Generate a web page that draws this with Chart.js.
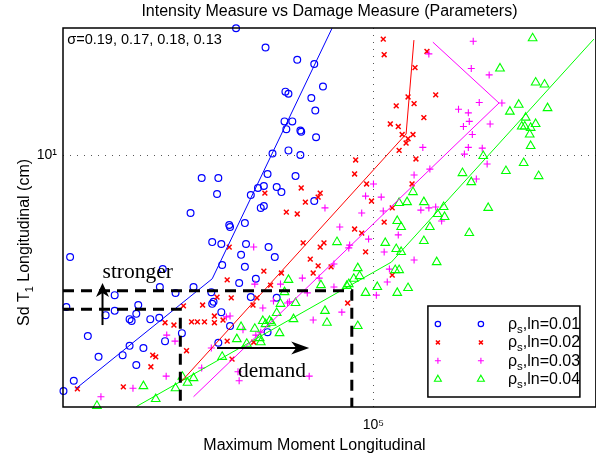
<!DOCTYPE html>
<html>
<head>
<meta charset="utf-8">
<title>Intensity Measure vs Damage Measure</title>
<script src="https://cdn.jsdelivr.net/npm/chart.js@4.4.1/dist/chart.umd.min.js"></script>
<style>
    html, body { margin: 0; padding: 0; overflow: hidden; background: #fff; }
    canvas { display: block; }
</style>
</head>
<body>
<canvas id="imChart" width="602" height="456"></canvas>
<script>
const SANS = '"Liberation Sans", Arial, Helvetica, sans-serif';
const SERIF = '"Liberation Serif", "Times New Roman", serif';

// axis limits and ticks
const momentRange = [20050, 316228];
const sdRange = [1.995, 22.54];
const momentTicks = [1e5];
const sdTicks = [10];

// rho_s,ln = 0.01
const moment01 = [
    49100, 57200, 67400, 73600, 77000, 63400, 64400, 72500, 74000, 63100,
    65700, 63700, 68500, 68800, 74300, 64400, 59300, 68500, 57800, 66800,
    41100, 44800, 56700, 60600, 55000, 62100, 44500, 53000, 73600, 56700,
    55800, 38800, 47400, 47600, 51400, 43400, 45500, 51700, 58100, 50400,
    60000, 20800, 45700, 51400, 33600, 54400, 49900, 33100, 39400, 35900,
    43200, 26200, 53000, 60600, 43700, 43400, 20400, 29600, 26200, 25000,
    29300, 28300, 28600, 31500, 33000, 45500, 47600, 22800, 37100, 34000,
    44800, 57800, 28300, 30400, 27300, 24100, 29300, 21200, 20100
];
const sd01 = [
    22.5, 19.9, 18.4, 17.9, 15.5, 15.0, 14.8, 14.4, 13.3, 12.4,
    12.4, 11.8, 11.7, 11.6, 11.2, 10.3, 10.1, 10.0, 8.86, 8.74,
    8.63, 8.63, 8.20, 8.15, 8.10, 7.89, 7.79, 7.74, 7.45, 7.22,
    7.13, 6.90, 6.39, 6.31, 6.47, 5.73, 5.66, 5.66, 5.55, 5.28,
    5.21, 5.21, 4.95, 4.89, 4.82, 4.53, 4.41, 4.30, 4.30, 4.14,
    4.16, 4.08, 4.03, 4.01, 3.91, 3.86, 3.78, 3.83, 3.69, 3.59,
    3.62, 3.50, 3.46, 3.50, 3.53, 3.66, 3.35, 3.14, 3.20, 3.04,
    3.01, 3.22, 2.95, 2.91, 2.78, 2.75, 2.61, 2.36, 2.21
];

// rho_s,ln = 0.02
const moment02 = [
    105200, 105700, 131900, 124000, 119600, 138000, 112500, 123400, 129800, 109100,
    113700, 116000, 122700, 119600, 118400, 114200, 124600, 91200, 90700, 96500,
    122100, 68800, 57000, 75900, 75100, 99000, 70300, 110200, 63700, 67400,
    105700, 90700, 94100, 69500, 77400, 75900, 47400, 96000, 72100, 75100,
    73200, 80300, 56700, 62100, 110200, 46900, 58700, 44500, 47900, 54700,
    87500, 41300, 37400, 53600, 34000, 35600, 39000, 40200, 41700, 43900,
    43900, 45900, 46900, 53800, 38000, 31900, 32400, 31600, 48100, 27400,
    21600
];
const sd02 = [
    21.0, 19.0, 19.4, 17.5, 14.5, 14.7, 13.7, 13.9, 12.7, 12.2,
    12.0, 11.4, 11.4, 11.1, 10.8, 10.3, 9.75, 9.69, 8.86, 8.31,
    8.31, 8.10, 7.84, 7.84, 7.64, 7.45, 7.40, 7.13, 6.94, 6.86,
    6.51, 6.23, 6.07, 5.70, 5.70, 5.55, 5.55, 5.38, 5.14, 4.92,
    4.70, 4.89, 4.76, 4.70, 4.64, 4.50, 4.35, 4.03, 4.01, 4.01,
    3.88, 3.83, 3.81, 3.83, 3.42, 3.37, 3.44, 3.44, 3.44, 3.57,
    3.42, 3.48, 3.04, 3.02, 2.86, 2.78, 2.75, 2.58, 2.71, 2.27,
    2.24
];

// rho_s,ln = 0.03
const moment03 = [
    167600, 133200, 165900, 182000, 172900, 194400, 155300, 163400, 164200, 159300,
    182900, 166800, 129100, 163400, 175600, 160100, 180100, 170300, 133900, 123400,
    138000, 133200, 127800, 142300, 100000, 96000, 104100, 94100, 105200, 77800,
    84000, 113700, 97500, 88400, 88000, 105700, 123400, 81500, 69200, 75500,
    108600, 81500, 71000, 107400, 101500, 84900, 73200, 61800, 64700, 56400,
    59600, 64100, 53800, 54100, 55800, 54400, 50900, 46700, 47600, 34300,
    35800, 43200, 41100, 34200, 28800, 24400, 49600, 49900, 71700
];
const sd03 = [
    20.7, 19.1, 17.4, 16.7, 14.0, 13.95, 13.4, 13.1, 12.4, 12.0,
    12.2, 11.4, 10.5, 10.5, 10.45, 10.06, 9.44, 8.58, 9.14, 8.80,
    7.17, 7.13, 7.03, 6.56, 8.31, 7.69, 7.64, 6.90, 6.99, 7.13,
    6.31, 6.00, 5.84, 5.62, 5.52, 5.38, 5.11, 4.98, 4.55, 4.55,
    4.82, 4.30, 4.14, 4.44, 4.08, 3.66, 3.48, 4.38, 3.91, 3.76,
    3.93, 3.88, 5.55, 4.38, 3.22, 3.16, 3.27, 3.55, 3.57, 3.16,
    3.04, 2.91, 2.56, 2.43, 2.25, 2.13, 2.50, 2.36, 2.43
];

// rho_s,ln = 0.04
const moment04 = [
    227900, 192500, 231500, 242400, 212100, 202600, 246200, 219900, 231500, 215400,
    218800, 225600, 224500, 225600, 176500, 217600, 198500, 235100, 158500, 165900,
    122700, 114200, 119000, 129800, 181100, 143800, 139400, 144500, 113100, 115400,
    133900, 164200, 129800, 106300, 112500, 115400, 82800, 138700, 92200, 93100,
    90300, 111900, 114200, 87100, 88000, 76200, 102000, 96000, 119600, 113100,
    64400, 63100, 61800, 66800, 77800, 78600, 56400, 58400, 59000, 57200,
    60600, 92200, 66100, 61500, 54100, 55800, 55500, 50400, 49300, 51900,
    45700, 39400, 38200, 37200, 35900, 30400, 32400, 23900
];
const sd04 = [
    21.1, 17.4, 15.9, 15.7, 13.8, 13.2, 13.5, 12.7, 12.2, 12.0,
    12.0, 11.9, 11.4, 10.6, 9.94, 9.50, 9.03, 8.74, 8.91, 8.41,
    7.89, 7.36, 7.40, 7.40, 7.13, 7.17, 6.86, 6.73, 6.56, 6.31,
    6.31, 6.07, 5.77, 5.70, 5.48, 5.38, 5.73, 5.04, 4.85, 4.61,
    4.53, 4.79, 4.79, 4.33, 4.38, 4.35, 4.30, 4.14, 4.27, 4.14,
    4.50, 4.16, 3.86, 3.88, 3.69, 3.42, 3.46, 3.46, 3.42, 3.39,
    3.64, 3.35, 3.50, 3.20, 3.29, 3.02, 3.10, 3.33, 3.08, 2.99,
    2.75, 2.40, 2.33, 2.42, 2.25, 2.28, 2.10, 2.01
];

// fitted lines (bilinear)
const fitMoment01 = [21400, 43400, 80700];
const fitSd01 = [2.24, 4.53, 22.5];
const fitMoment02 = [36900, 118400, 123300];
const fitSd02 = [2.34, 11.44, 20.86];
const fitMoment03 = [39400, 191500, 136000];
const fitSd03 = [2.13, 13.95, 20.59];
const fitMoment04 = [29300, 109700, 313000];
const fitSd04 = [2.0, 5.04, 21.0];

const legendValues = ["0.01", "0.02", "0.03", "0.04"];

// annotations, in data units
const capacitySd = [4.2, 3.73];
const capacityMoment = [89400, 36800];
const strongerArrow = { moment: 24600, from: 3.37, to: 4.41 };
const strongerText = { moment: 24600, sd: 4.55, text: "stronger" };
const demandArrow = { sd: 2.91, from: 44500, to: 71700 };
const demandText = { moment: 49600, sd: 2.42, text: "demand" };
const sigmaText = { moment: 20500, sd: 20.3, text: "σ=0.19, 0.17, 0.18, 0.13" };

const titleText = "Intensity Measure vs Damage Measure (Parameters)";
const xTitle = "Maximum Moment Longitudinal";

const styles = [
    { color: "#0000ff", pointStyle: "circle", radius: 3.4, legendRadius: 2.7, width: 1.2 },
    { color: "#ff0000", pointStyle: "crossRot", radius: 3.4, legendRadius: 2.8, width: 1.5 },
    { color: "#ff00ff", pointStyle: "cross", radius: 3.5, legendRadius: 3.0, width: 1.1 },
    { color: "#00ff00", pointStyle: "triangle", radius: 5, legendRadius: 4, width: 1.1 }
];

const SUPERS = "⁰¹²³⁴⁵⁶⁷⁸⁹";
const powerLabel = v => "10" + String(Math.round(Math.log10(v))).split("").map(d => SUPERS[d]).join("");

const toPoints = (xs, ys) => xs.map((v, i) => ({ x: v, y: ys[i] }));

function scatterSet(xs, ys, s) {
    return {
        data: toPoints(xs, ys),
        pointStyle: s.pointStyle,
        pointRadius: s.radius,
        pointHoverRadius: s.radius,
        borderColor: s.color,
        backgroundColor: "rgba(0,0,0,0)",
        borderWidth: s.width,
        clip: false
    };
}

function fitSet(xs, ys, s) {
    return {
        data: toPoints(xs, ys),
        showLine: true,
        pointRadius: 0,
        borderColor: s.color,
        borderWidth: 1,
        fill: false
    };
}

function drawArrow(ctx, x0, y0, x1, y1, len, half) {
    const ang = Math.atan2(y1 - y0, x1 - x0);
    ctx.beginPath();
    ctx.moveTo(x0, y0);
    ctx.lineTo(x1 - Math.cos(ang) * len * 0.7, y1 - Math.sin(ang) * len * 0.7);
    ctx.stroke();
    ctx.save();
    ctx.translate(x1, y1);
    ctx.rotate(ang);
    ctx.beginPath();
    ctx.moveTo(0, 0);
    ctx.lineTo(-len, -half);
    ctx.lineTo(-len * 0.72, 0);
    ctx.lineTo(-len, half);
    ctx.closePath();
    ctx.fill();
    ctx.restore();
}

function drawMarker(ctx, s, r, x, y) {
    ctx.strokeStyle = s.color;
    ctx.fillStyle = "rgba(0,0,0,0)";
    ctx.lineWidth = s.width;
    Chart.helpers.drawPoint(ctx, { pointStyle: s.pointStyle, radius: r, borderWidth: s.width, rotation: 0 }, x, y);
}

function drawYTitle(ctx, cx, cy) {
    const main = "16px " + SANS;
    const sub = "11px " + SANS;
    ctx.font = main;
    const w1 = ctx.measureText("Sd T").width;
    const w3 = ctx.measureText(" Longitudinal (cm)").width;
    ctx.font = sub;
    const w2 = ctx.measureText("1").width;
    ctx.save();
    ctx.translate(cx, cy);
    ctx.rotate(-Math.PI / 2);
    ctx.textAlign = "left";
    ctx.textBaseline = "alphabetic";
    const x0 = -(w1 + w2 + w3) / 2;
    ctx.font = main;
    ctx.fillText("Sd T", x0, 0);
    ctx.font = sub;
    ctx.fillText("1", x0 + w1, 4);
    ctx.font = main;
    ctx.fillText(" Longitudinal (cm)", x0 + w1 + w2, 0);
    ctx.restore();
}

function drawLegend(ctx, area) {
    const w = 152, h = 91;
    const left = area.right - 16 - w;
    const top = area.bottom - 10 - h;
    ctx.save();
    ctx.fillStyle = "#fff";
    ctx.fillRect(left, top, w, h);
    styles.forEach((s, i) => {
        const y = top + 18 + i * 18.4;
        drawMarker(ctx, s, s.legendRadius, left + 10, y);
        drawMarker(ctx, s, s.legendRadius, left + 53, y);
        ctx.fillStyle = "#000";
        ctx.textAlign = "left";
        ctx.textBaseline = "alphabetic";
        let x = left + 80;
        ctx.font = "16px " + SANS;
        ctx.fillText("ρ", x, y + 5);
        x += ctx.measureText("ρ").width;
        ctx.font = "11.5px " + SANS;
        ctx.fillText("s", x, y + 9);
        x += ctx.measureText("s").width;
        ctx.font = "16px " + SANS;
        ctx.fillText(",ln=" + legendValues[i], x, y + 5);
    });
    ctx.strokeStyle = "#000";
    ctx.lineWidth = 1.5;
    ctx.strokeRect(left, top, w, h);
    ctx.restore();
}

const overlayPlugin = {
    id: "overlay",
    afterDatasetsDraw(chart) {
        const { ctx, chartArea: area, scales } = chart;
        const px = v => scales.x.getPixelForValue(v);
        const py = v => scales.y.getPixelForValue(v);
        ctx.save();

        // axes box
        ctx.strokeStyle = "#000";
        ctx.lineWidth = 1.5;
        ctx.strokeRect(area.left, area.top, area.right - area.left, area.bottom - area.top);

        // dashed capacity lines
        ctx.lineWidth = 3;
        ctx.setLineDash([11, 7]);
        capacitySd.forEach((sd, i) => {
            ctx.beginPath();
            ctx.moveTo(area.left, py(sd));
            ctx.lineTo(px(capacityMoment[i]), py(sd));
            ctx.lineTo(px(capacityMoment[i]), area.bottom);
            ctx.stroke();
        });
        ctx.setLineDash([]);

        // arrows
        ctx.fillStyle = "#000";
        ctx.lineWidth = 2;
        drawArrow(ctx, px(strongerArrow.moment), py(strongerArrow.from), px(strongerArrow.moment), py(strongerArrow.to), 14, 6.5);
        drawArrow(ctx, px(demandArrow.from), py(demandArrow.sd), px(demandArrow.to), py(demandArrow.sd), 18, 6.5);

        ctx.textAlign = "left";
        ctx.textBaseline = "alphabetic";
        ctx.font = "21.5px " + SERIF;
        ctx.fillText(strongerText.text, px(strongerText.moment), py(strongerText.sd));
        ctx.fillText(demandText.text, px(demandText.moment), py(demandText.sd));

        ctx.font = "14.5px " + SANS;
        ctx.fillText(sigmaText.text, px(sigmaText.moment), py(sigmaText.sd));

        // axis titles
        ctx.font = "16px " + SANS;
        ctx.textAlign = "center";
        ctx.fillText(xTitle, area.left + 251.5, area.bottom + 43);
        drawYTitle(ctx, area.left - 34, area.top + 214.5);

        drawLegend(ctx, area);
        ctx.restore();
    }
};

document.addEventListener("DOMContentLoaded", () => {
    Chart.defaults.font.family = SANS;
    Chart.defaults.color = "#000";

    const ctx = document.getElementById("imChart").getContext("2d");
    new Chart(ctx, {
        type: "scatter",
        data: {
            datasets: [
                fitSet(fitMoment01, fitSd01, styles[0]),
                fitSet(fitMoment02, fitSd02, styles[1]),
                fitSet(fitMoment03, fitSd03, styles[2]),
                fitSet(fitMoment04, fitSd04, styles[3]),
                scatterSet(moment04, sd04, styles[3]),
                scatterSet(moment03, sd03, styles[2]),
                scatterSet(moment02, sd02, styles[1]),
                scatterSet(moment01, sd01, styles[0])
            ]
        },
        options: {
            responsive: false,
            animation: false,
            devicePixelRatio: 1,
            layout: { padding: 0 },
            plugins: {
                legend: { display: false },
                tooltip: { enabled: false },
                title: {
                    display: true,
                    fullSize: false,
                    text: titleText,
                    color: "#000",
                    font: { family: SANS, size: 16, weight: "normal" },
                    padding: { top: 2, bottom: 6.8 }
                }
            },
            scales: {
                x: {
                    type: "logarithmic",
                    min: momentRange[0],
                    max: momentRange[1],
                    afterFit: s => { s.height = 49; },
                    afterBuildTicks: s => { s.ticks = momentTicks.map(v => ({ value: v })); },
                    ticks: { callback: powerLabel, font: { size: 14 }, padding: 10, maxRotation: 0, autoSkip: false },
                    grid: { color: "#555", lineWidth: 1, drawTicks: false },
                    border: { display: false, dash: [1, 6] }
                },
                y: {
                    type: "logarithmic",
                    min: sdRange[0],
                    max: sdRange[1],
                    afterFit: s => { s.width = 63; },
                    afterBuildTicks: s => { s.ticks = sdTicks.map(v => ({ value: v })); },
                    ticks: { callback: powerLabel, font: { size: 14 }, padding: 6, autoSkip: false },
                    grid: { color: "#555", lineWidth: 1, drawTicks: false },
                    border: { display: false, dash: [1, 6] }
                }
            }
        },
        plugins: [overlayPlugin]
    });
});
</script>
</body>
</html>
